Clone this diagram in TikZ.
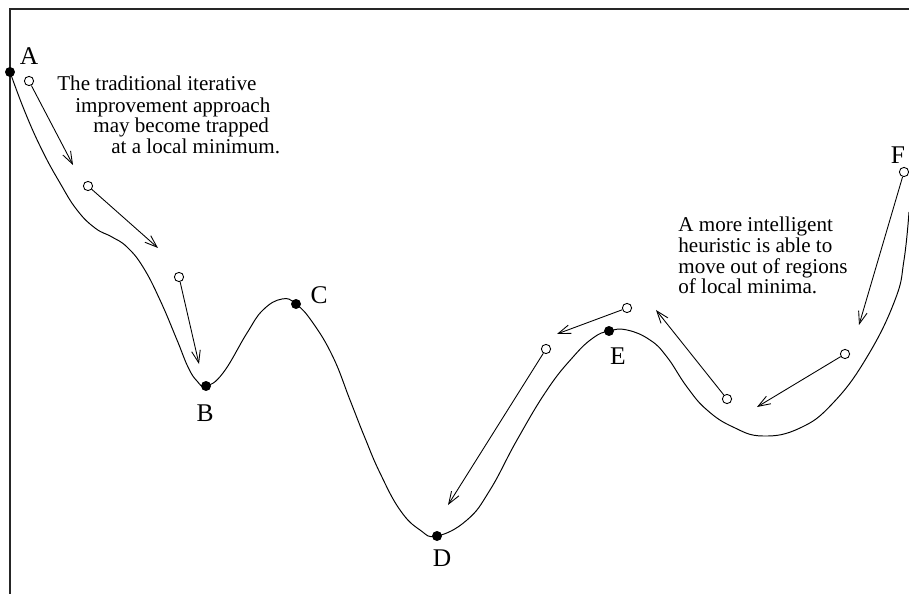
\documentclass[tikz,border=0pt]{standalone}
\usepackage{fontspec}
\setmainfont{Liberation Serif}
\usetikzlibrary{arrows.meta}

\begin{document}
\begin{tikzpicture}[x=0.02cm,y=-0.02cm,
  dot/.style={circle,fill=black,inner sep=0pt,minimum size=0.2cm},
  hole/.style={circle,draw,fill=white,inner sep=0pt,minimum size=0.185cm,line width=0.5pt},
  pt/.style={inner sep=0pt,font=\fontsize{14.5}{14.5}\selectfont},
  note/.style={inner sep=0pt,anchor=base west,font=\fontsize{12}{12}\selectfont},
  move/.style={line width=0.5pt,-{Straight Barb[length=7pt,width=5pt]}}]

\useasboundingbox (0,0) rectangle (909,594);

% frame
\draw[line width=0.9pt,black!85] (909,9) -- (10,9) -- (10,594);

% the landscape
\draw[line width=0.55pt] plot[smooth,tension=0.75] coordinates {
  (10,72) (25,112) (42,150) (60,183) (77,210) (95,228) (112,237)
  (127,247) (143,267) (160,300) (177,340) (188,367) (197,381) (206,386)
  (223,373) (247,333) (263,310) (282,299) (296,304) (313,323) (333,357)
  (350,400) (365,438) (380,473) (400,510) (420,530) (437,536) (467,520)
  (490,490) (517,440) (547,390) (573,357) (593,338) (609,331) (627,330)
  (650,340) (667,357) (687,387) (707,410) (733,427) (763,436) (800,428)
  (833,403) (867,357) (895,300) (904,260) (909,212)};

% points
\node[dot] (a) at (10,72) {};
\node[dot] (b) at (206,386) {};
\node[dot] (c) at (296,304) {};
\node[dot] (d) at (437,536) {};
\node[dot] (e) at (609,331) {};

\node[pt] (la) at (29,56) {A};
\node[pt] (lb) at (205,413) {B};
\node[pt] (lc) at (319,295) {C};
\node[pt] (ld) at (442,558) {D};
\node[pt] (le) at (618,356) {E};
\node[pt] (lf) at (898,155) {F};

% moves
\node[hole] (h1) at (29,81) {};
\node[hole] (h2) at (88,186) {};
\node[hole] (h3) at (179,277) {};
\node[hole] (h4) at (546,349) {};
\node[hole] (h5) at (627,308) {};
\node[hole] (h6) at (727,399) {};
\node[hole] (h7) at (845,354) {};
\node[hole] (h8) at (904,172) {};

\coordinate (q1) at (73,165);
\coordinate (q2) at (158,248);
\coordinate (q3) at (199,364);
\coordinate (q4) at (448,505);
\coordinate (q5) at (557,334);
\coordinate (q6) at (656,310);
\coordinate (q7) at (757,407);
\coordinate (q8) at (859,325);

\draw[move] (h1) -- (q1);
\draw[move] (h2) -- (q2);
\draw[move] (h3) -- (q3);
\draw[move] (h4) -- (q4);
\draw[move] (h5) -- (q5);
\draw[move] (h6) -- (q6);
\draw[move] (h7) -- (q7);
\draw[move] (h8) -- (q8);

% texts
\node[note] (t1) at (57,91) {The traditional iterative};
\node[note] (t2) at (75,113) {improvement approach};
\node[note] (t3) at (93,133) {may become trapped};
\node[note] (t4) at (111,154) {at a local minimum.};

\node[note] (s1) at (678,232) {A more intelligent};
\node[note] (s2) at (678,253) {heuristic is able to};
\node[note] (s3) at (678,274) {move out of regions};
\node[note] (s4) at (678,294) {of local minima.};

\end{tikzpicture}
\end{document}
